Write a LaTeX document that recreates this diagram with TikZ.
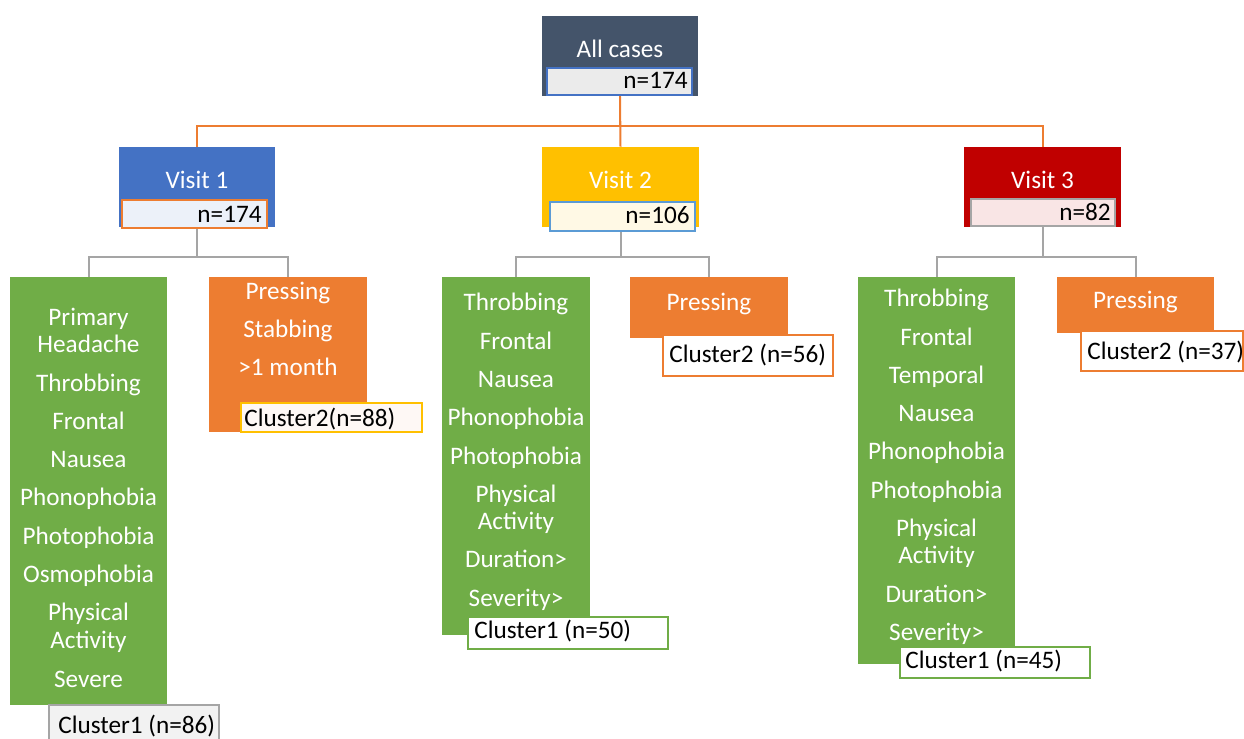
\documentclass[tikz,border=0pt]{standalone}
\usepackage{fontspec}
\setmainfont{Carlito}

\definecolor{cslate}{HTML}{44546A}
\definecolor{cblue}{HTML}{4472C4}
\definecolor{cgold}{HTML}{FFC000}
\definecolor{cred}{HTML}{C00000}
\definecolor{cgreen}{HTML}{70AD47}
\definecolor{corange}{HTML}{ED7D31}
\definecolor{cgray}{HTML}{A5A5A5}
\definecolor{csky}{HTML}{5B9BD5}

\begin{document}
\begin{tikzpicture}[x=0.5pt,y=-0.5pt]

\tikzset{box/.style={rectangle,inner sep=0pt,draw=none}}
\tikzset{frame/.style={rectangle,inner sep=0pt,line width=1pt}}
\tikzset{oline/.style={draw=corange,line width=1pt}}
\tikzset{gline/.style={draw=cgray,line width=1pt}}
\tikzset{lbl/.style={anchor=base,text=white,inner sep=0pt,font=\fontsize{12.6}{15}\selectfont}}
\tikzset{tag/.style={anchor=base west,inner sep=0pt,font=\fontsize{12.6}{15}\selectfont}}
\tikzset{count/.style={anchor=base east,inner sep=0pt,font=\fontsize{12.6}{15}\selectfont}}

\useasboundingbox (0,0) rectangle (1244,739);
\clip (0,0) rectangle (1244,739);

% top level
\node[box,fill=cslate,minimum width=78pt,minimum height=40pt] (all) at (620,56) {};
\node[box,fill=cblue,minimum width=78pt,minimum height=40pt] (v1) at (197,187) {};
\node[box,fill=cgold,minimum width=78.5pt,minimum height=40pt] (v2) at (620.5,187) {};
\node[box,fill=cred,minimum width=78.5pt,minimum height=40pt] (v3) at (1042.5,187) {};

% leaves
\node[box,fill=cgreen,minimum width=78.5pt,minimum height=214pt] (g1) at (88.5,491) {};
\node[box,fill=corange,minimum width=79pt,minimum height=77.5pt] (o1) at (288,354.5) {};
\node[box,fill=cgreen,minimum width=74pt,minimum height=179pt] (g2) at (516,456) {};
\node[box,fill=corange,minimum width=79pt,minimum height=30.5pt] (o2) at (709,307.5) {};
\node[box,fill=cgreen,minimum width=78.5pt,minimum height=193.5pt] (g3) at (936.5,470.5) {};
\node[box,fill=corange,minimum width=78.5pt,minimum height=28pt] (o3) at (1135.5,305) {};

\path[oline] (all.south) -- (v2.north);
\path[oline] (all.south) -- ++(0,30) -| (v1.north);
\path[oline] (all.south) -- ++(0,30) -| (v3.north);

\path[gline] (v1.south) -- ++(0,30) -| (g1.north);
\path[gline] (v1.south) -- ++(0,30) -| (o1.north);
\path[gline] (v2.south) -- ++(0,30) -| (g2.north);
\path[gline] (v2.south) -- ++(0,30) -| (o2.north);
\path[gline] (v3.south) -- ++(0,30) -| (g3.north);
\path[gline] (v3.south) -- ++(0,30) -| (o3.north);

% count boxes
\node[frame,draw=cblue,fill=black!8,minimum width=72.5pt,minimum height=13.5pt] (alln) at (619.5,81.5) {};
\node[frame,draw=corange,fill=cblue!10,minimum width=72.5pt,minimum height=14pt] (v1n) at (194.5,214) {};
\node[frame,draw=csky,fill=cgold!10,minimum width=72.5pt,minimum height=14.5pt] (v2n) at (622.5,216.5) {};
\node[frame,draw=cgray,fill=cred!10,minimum width=72pt,minimum height=13.5pt] (v3n) at (1043,212.5) {};

% cluster boxes
\node[frame,draw=cgold,fill=corange!5,minimum width=90.5pt,minimum height=14.5pt] (c1) at (331.5,417.5) {};
\node[frame,draw=cgray,fill=black!5,minimum width=85pt,minimum height=20pt] (k1) at (134,725) {};
\node[frame,draw=cgreen,fill=white,minimum width=100pt,minimum height=16pt] (k2) at (568,633) {};
\node[frame,draw=corange,fill=white,minimum width=85pt,minimum height=20.5pt] (c2) at (748,355.5) {};
\node[frame,draw=cgreen,fill=white,minimum width=95pt,minimum height=15.5pt] (k3) at (995,662.5) {};
\node[frame,draw=corange,fill=white,minimum width=81pt,minimum height=20pt] (c3) at (1162,351) {};

% titles
\node[lbl] (allt) at (620,57.5) {All cases};
\node[lbl] (v1t) at (197,188.5) {Visit 1};
\node[lbl] (v2t) at (620.5,188) {Visit 2};
\node[lbl] (v3t) at (1042.5,188) {Visit 3};

\node[count] (allc) at (688,88) {n=174};
\node[count] (v1c) at (262,222.5) {n=174};
\node[count] (v2c) at (690,223) {n=106};
\node[count] (v3c) at (1111,220) {n=82};

% visit 1
\node[lbl] (g1a) at (88.5,325) {Primary};
\node[lbl] (g1b) at (88.5,352) {Headache};
\node[lbl] (g1c) at (88.5,391) {Throbbing};
\node[lbl] (g1d) at (88.5,429) {Frontal};
\node[lbl] (g1e) at (88.5,467) {Nausea};
\node[lbl] (g1f) at (88.5,505) {Phonophobia};
\node[lbl] (g1g) at (88.5,544) {Photophobia};
\node[lbl] (g1h) at (88.5,582) {Osmophobia};
\node[lbl] (g1i) at (88.5,620) {Physical};
\node[lbl] (g1j) at (88.5,648) {Activity};
\node[lbl] (g1k) at (88.5,687) {Severe};

\node[lbl] (o1a) at (288,299) {Pressing};
\node[lbl] (o1b) at (288,337) {Stabbing};
\node[lbl] (o1c) at (288,375) {>1 month};

\node[tag] (c1t) at (244,426.5) {Cluster2(n=88)};
\node[tag] (k1t) at (58,733) {Cluster1 (n=86)};

% visit 2
\node[lbl] (g2a) at (516,310) {Throbbing};
\node[lbl] (g2b) at (516,349) {Frontal};
\node[lbl] (g2c) at (516,387) {Nausea};
\node[lbl] (g2d) at (516,425) {Phonophobia};
\node[lbl] (g2e) at (516,464) {Photophobia};
\node[lbl] (g2f) at (516,502) {Physical};
\node[lbl] (g2g) at (516,529) {Activity};
\node[lbl] (g2h) at (516,567) {Duration>};
\node[lbl] (g2i) at (516,606) {Severity>};

\node[lbl] (o2a) at (709,310) {Pressing};

\node[tag] (k2t) at (474,638.5) {Cluster1 (n=50)};
\node[tag] (c2t) at (669,362) {Cluster2 (n=56)};

% visit 3
\node[lbl] (g3a) at (936.5,306) {Throbbing};
\node[lbl] (g3b) at (936.5,345) {Frontal};
\node[lbl] (g3c) at (936.5,383) {Temporal};
\node[lbl] (g3d) at (936.5,421) {Nausea};
\node[lbl] (g3e) at (936.5,459) {Phonophobia};
\node[lbl] (g3f) at (936.5,498) {Photophobia};
\node[lbl] (g3g) at (936.5,536) {Physical};
\node[lbl] (g3h) at (936.5,563) {Activity};
\node[lbl] (g3i) at (936.5,602) {Duration>};
\node[lbl] (g3j) at (936.5,640) {Severity>};

\node[lbl] (o3a) at (1135.5,308) {Pressing};

\node[tag] (k3t) at (905,668) {Cluster1 (n=45)};
\node[tag] (c3t) at (1087,359.5) {Cluster2 (n=37)};

\end{tikzpicture}
\end{document}
